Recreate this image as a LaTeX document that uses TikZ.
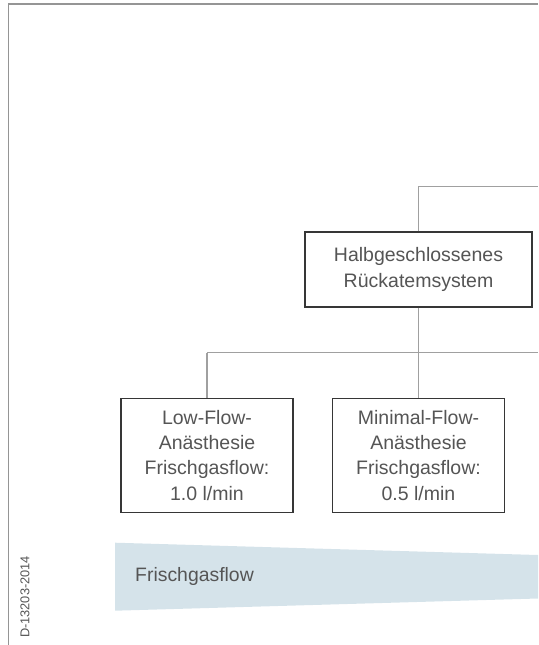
\documentclass[tikz,border=0pt]{standalone}
\usepackage{fontspec}
\setmainfont{Liberation Sans}
\definecolor{txtgray}{HTML}{555555}
\definecolor{linegray}{HTML}{A0A0A0}
\definecolor{framegray}{HTML}{959595}
\definecolor{boxborder}{HTML}{363636}
\definecolor{bandblue}{HTML}{D5E3EA}
\begin{document}
\begin{tikzpicture}[x=1pt,y=-1pt,
  box/.style={draw=boxborder,line width=1.2pt,fill=white,align=center,inner sep=0pt,
    text=txtgray,font=\fontsize{19.5}{25.2}\selectfont},
  conn/.style={draw=linegray,line width=1.3pt},
  frame/.style={draw=framegray,line width=1.6pt}]
\useasboundingbox (0,0) rectangle (538,645);
% frame
\draw[frame] (8.5,645) -- (8.5,3.7) -- (538,3.7);
% band
\fill[bandblue] (115,542.7) -- (538,555) -- (538,598.5) -- (115,610.7) -- cycle;
\node[anchor=west,text=txtgray,font=\fontsize{19.4}{23}\selectfont,inner sep=0pt] (band) at (135,576) {Frischgasflow};
\node[rotate=90,text=txtgray,font=\fontsize{12.8}{15}\selectfont,inner sep=0pt] (code) at (25,597) {D-13203-2014};
% boxes
\node[box,minimum width=227pt,minimum height=75pt] (halb) at (418.5,269.5) {Halbgeschlossenes\\Rückatemsystem};
\node[box,minimum width=172pt,minimum height=114pt] (low) at (207,455.3) {Low-Flow-\\Anästhesie\\Frischgasflow:\\1.0 l/min};
\node[box,minimum width=172pt,minimum height=114pt] (minf) at (418.5,455.3) {Minimal-Flow-\\Anästhesie\\Frischgasflow:\\0.5 l/min};
% connectors
\coordinate (topend) at (538,186.7);
\coordinate (jn) at (418.5,352.7);
\coordinate (barL) at (207,352.7);
\coordinate (barR) at (538,352.7);
\draw[conn] (halb.north) |- (topend);
\draw[conn] (halb.south) -- (jn);
\draw[conn] (barL) -- (barR);
\draw[conn] (barL) -- (low.north);
\draw[conn] (jn) -- (minf.north);
\end{tikzpicture}
\end{document}
